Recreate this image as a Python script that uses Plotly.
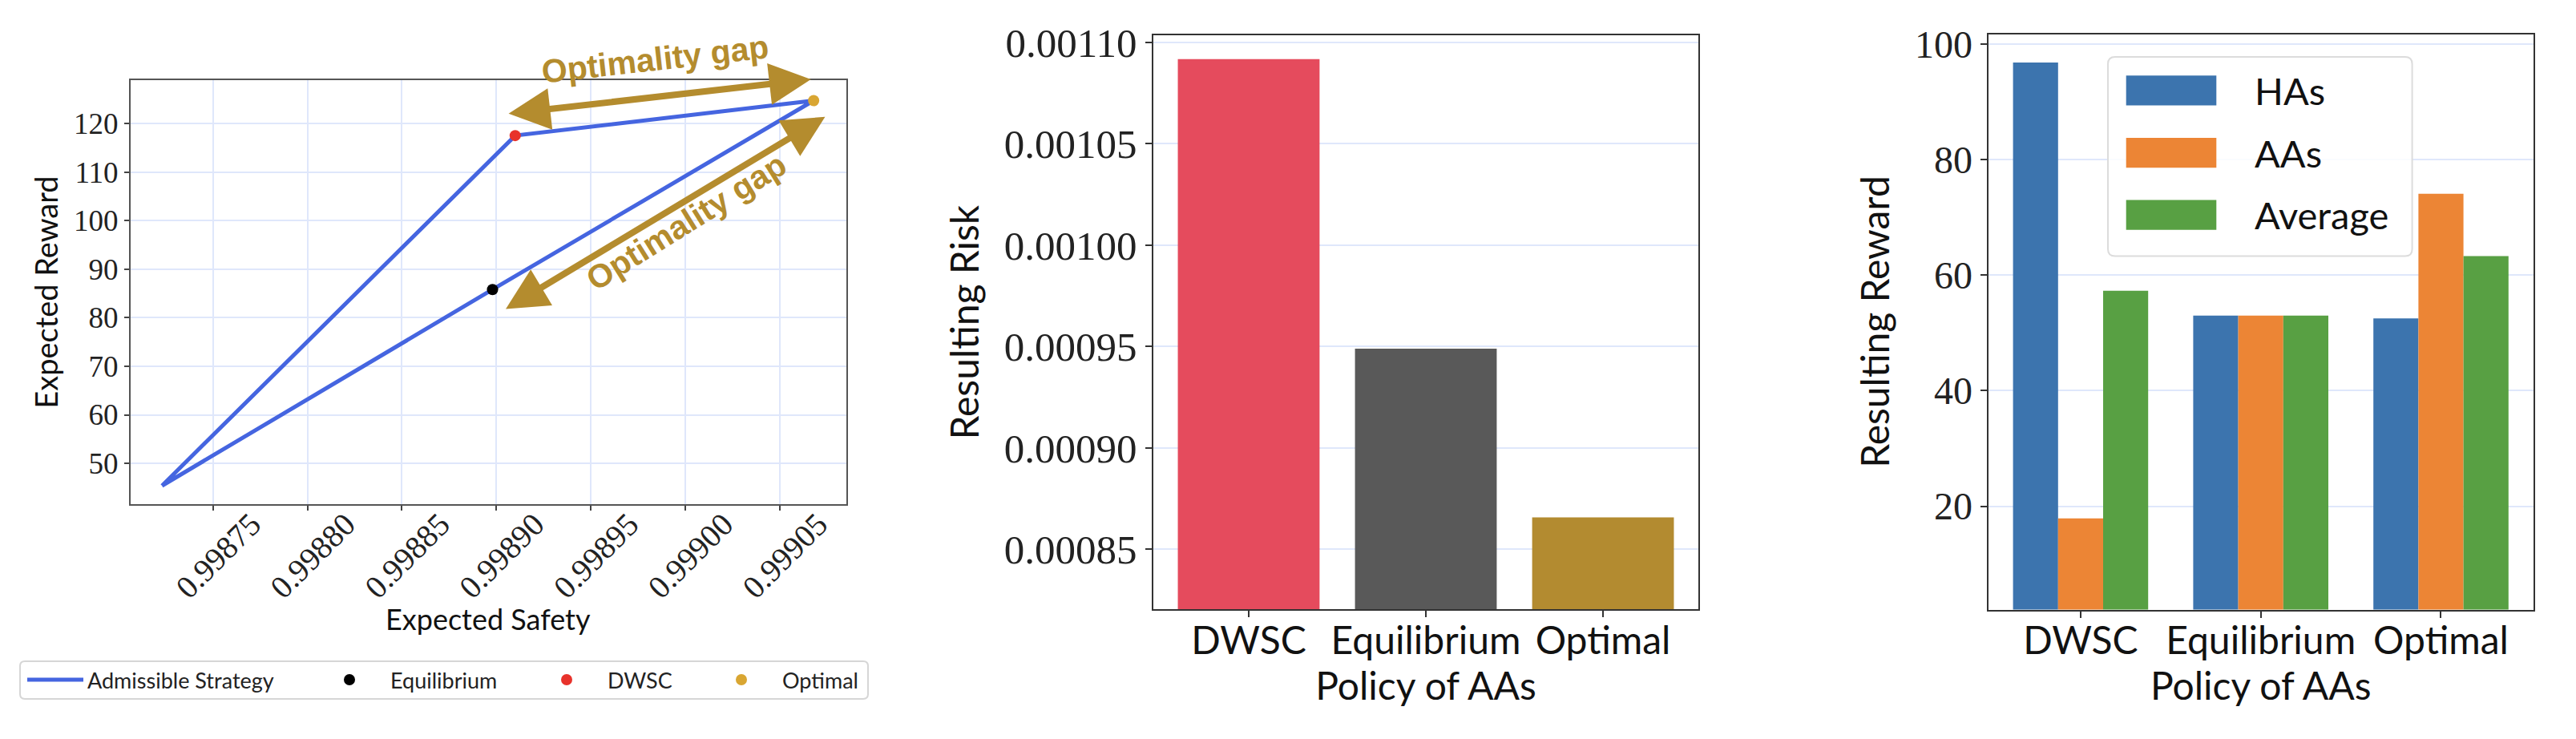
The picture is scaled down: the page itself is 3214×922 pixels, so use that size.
import plotly.graph_objects as go

W, H = 3214, 922

# ---------------- data ----------------
# Panel 1: admissible strategy frontier (Expected Safety vs Expected Reward)
strategy_safety = [0.998723, 0.998910, 0.999068, 0.998898, 0.998723]
strategy_reward = [45.4, 117.5, 124.7, 85.8, 45.4]
equilibrium_safety = [0.998898]
equilibrium_reward = [85.8]
dwsc_safety = [0.998910]
dwsc_reward = [117.5]
optimal_safety = [0.999068]
optimal_reward = [124.7]
x1_ticks = [0.99875, 0.99880, 0.99885, 0.99890, 0.99895, 0.99900, 0.99905]
y1_ticks = [50, 60, 70, 80, 90, 100, 110, 120]

# Panel 2: resulting risk per policy
policies = ["DWSC", "Equilibrium", "Optimal"]
risk = [0.0010917, 0.0009489, 0.0008657]
y2_ticks = [0.00085, 0.00090, 0.00095, 0.00100, 0.00105, 0.00110]

# Panel 3: resulting reward per policy
reward_has = [96.8, 53.0, 52.5]
reward_aas = [17.9, 53.0, 74.1]
reward_avg = [57.3, 53.0, 63.3]
y3_ticks = [20, 40, 60, 80, 100]

# ---------------- styling ----------------
GOLD = "#B48C2E"
BLUE_LINE = "#4565E0"
GRID = "#dfe7fb"
SERIF = "Liberation Serif"
SANS = "Lato"


def X(p):
    return p / W


def Y(p):
    return 1 - p / H


def rrect(x0, y0, x1, y1, r):
    return (f"M {X(x0 + r)},{Y(y0)} L {X(x1 - r)},{Y(y0)} Q {X(x1)},{Y(y0)} {X(x1)},{Y(y0 + r)} "
            f"L {X(x1)},{Y(y1 - r)} Q {X(x1)},{Y(y1)} {X(x1 - r)},{Y(y1)} "
            f"L {X(x0 + r)},{Y(y1)} Q {X(x0)},{Y(y1)} {X(x0)},{Y(y1 - r)} "
            f"L {X(x0)},{Y(y0 + r)} Q {X(x0)},{Y(y0)} {X(x0 + r)},{Y(y0)} Z")


fig = go.Figure()

# Panel 1 traces
fig.add_trace(go.Scatter(x=strategy_safety, y=strategy_reward, mode="lines",
                         line=dict(color=BLUE_LINE, width=5), name="Admissible Strategy",
                         xaxis="x", yaxis="y", legend="legend"))
fig.add_trace(go.Scatter(x=equilibrium_safety, y=equilibrium_reward, mode="markers",
                         marker=dict(color="black", size=14), name="Equilibrium",
                         xaxis="x", yaxis="y", legend="legend2"))
fig.add_trace(go.Scatter(x=dwsc_safety, y=dwsc_reward, mode="markers",
                         marker=dict(color="#E8322B", size=14), name="DWSC",
                         xaxis="x", yaxis="y", legend="legend3"))
fig.add_trace(go.Scatter(x=optimal_safety, y=optimal_reward, mode="markers",
                         marker=dict(color="#D9A632", size=14), name="Optimal",
                         xaxis="x", yaxis="y", legend="legend4"))

# Panel 2 bars
fig.add_trace(go.Bar(x=policies, y=risk, width=0.8,
                     marker=dict(color=["#E54B5D", "#595959", "#B38B30"], line=dict(width=0)),
                     xaxis="x2", yaxis="y2", showlegend=False, name="Resulting Risk"))

# Panel 3 grouped bars
for vals, col, off, nm in [(reward_has, "#3C74AE", -0.375, "HAs"),
                           (reward_aas, "#EC8535", -0.125, "AAs"),
                           (reward_avg, "#58A043", 0.125, "Average")]:
    fig.add_trace(go.Bar(x=policies, y=vals, width=0.25, offset=off,
                         marker=dict(color=col, line=dict(width=0)),
                         xaxis="x3", yaxis="y3", showlegend=False, name=nm))

axis_common = dict(showline=True, mirror=True, linewidth=2, ticks="outside",
                   tickwidth=2, zeroline=False)

fig.update_layout(
    width=W, height=H, autosize=False,
    margin=dict(l=0, r=0, t=0, b=0, pad=0),
    paper_bgcolor="white", plot_bgcolor="white",
    showlegend=True,
    xaxis=dict(domain=[X(163), X(1055.7)], anchor="y", range=[0.9987064, 0.9990852],
               tickvals=x1_ticks, tickformat=".5f", tickangle=-45,
               ticklabelshift=48, ticklabelstandoff=-22, ticklen=6, tickcolor="#444", linecolor="#555",
               showgrid=True, gridcolor=GRID, gridwidth=1.5,
               tickfont=dict(family=SERIF, size=40, color="#222"),
               **axis_common),
    yaxis=dict(domain=[Y(623), Y(84)], anchor="x", range=[41.63, 128.85],
               tickvals=y1_ticks, ticklen=6, tickcolor="#444", linecolor="#555",
               showgrid=True, gridcolor=GRID, gridwidth=1.5,
               tickfont=dict(family=SERIF, size=37, color="#222"),
               title=dict(text="Expected Reward", font=dict(family=SANS, size=38, color="#111"), standoff=8),
               **axis_common),
    xaxis2=dict(domain=[X(1438.6), X(2119.4)], anchor="y2", range=[-0.54, 2.54],
                type="category", ticklen=8, tickcolor="#333", linecolor="#333", showgrid=False,
                ticklabelstandoff=-12,
                tickfont=dict(family=SANS, size=48, color="#111"),
                title=dict(text="Policy of AAs", font=dict(family=SANS, size=48, color="#111"), standoff=10),
                **axis_common),
    yaxis2=dict(domain=[Y(757), Y(26.5)], anchor="x2", range=[0.0008204, 0.0011035],
                tickvals=y2_ticks, tickformat=".5f", ticklen=8, tickcolor="#333", linecolor="#333",
                showgrid=True, gridcolor=GRID, gridwidth=1.5,
                tickfont=dict(family=SERIF, size=51, color="#222"),
                title=dict(text="Resulting Risk", font=dict(family=SANS, size=48, color="#111"), standoff=16),
                **axis_common),
    xaxis3=dict(domain=[X(2480.7), X(3160.7)], anchor="y3", range=[-0.5125, 2.5125],
                type="category", ticklen=8, tickcolor="#333", linecolor="#333", showgrid=False,
                ticklabelstandoff=-12,
                tickfont=dict(family=SANS, size=48, color="#111"),
                title=dict(text="Policy of AAs", font=dict(family=SANS, size=48, color="#111"), standoff=10),
                **axis_common),
    yaxis3=dict(domain=[Y(757.3), Y(25)], anchor="x3", range=[2.1, 101.73],
                tickvals=y3_ticks, ticklen=8, tickcolor="#333", linecolor="#333",
                showgrid=True, gridcolor=GRID, gridwidth=1.5,
                tickfont=dict(family=SERIF, size=48, color="#222"),
                title=dict(text="Resulting Reward", font=dict(family=SANS, size=48, color="#111"), standoff=16),
                **axis_common),
    legend=dict(x=X(29), y=Y(847), xanchor="left", yanchor="middle", bgcolor="rgba(0,0,0,0)",
                borderwidth=0, itemwidth=70, font=dict(family=SANS, size=27, color="#222")),
    legend2=dict(x=X(385), y=Y(847), xanchor="left", yanchor="middle", bgcolor="rgba(0,0,0,0)",
                 borderwidth=0, itemwidth=92, font=dict(family=SANS, size=27, color="#222")),
    legend3=dict(x=X(656), y=Y(847), xanchor="left", yanchor="middle", bgcolor="rgba(0,0,0,0)",
                 borderwidth=0, itemwidth=92, font=dict(family=SANS, size=27, color="#222")),
    legend4=dict(x=X(874), y=Y(847), xanchor="left", yanchor="middle", bgcolor="rgba(0,0,0,0)",
                 borderwidth=0, itemwidth=92, font=dict(family=SANS, size=27, color="#222")),
)

# Panel 1 x-axis title (placed below the rotated tick labels)
fig.add_annotation(x=X((163 + 1055.7) / 2), y=Y(769), xref="paper", yref="paper", showarrow=False,
                   text="Expected Safety", xanchor="center", yanchor="middle",
                   font=dict(family=SANS, size=36, color="#111"))

# Panel 1 legend frame
fig.add_shape(type="path", xref="paper", yref="paper", path=rrect(25, 823, 1083, 871, 6),
              line=dict(color="#d6d6d6", width=2), fillcolor="white", layer="above")

# Optimality-gap double arrows (panel 1)
gap_arrows = [((0.9989065, 122.0), (0.9990672, 129.1)),
              ((0.998905, 81.8), (0.9990747, 121.5))]
for (xa, ya), (xb, yb) in gap_arrows:
    fig.add_annotation(x=xa, y=ya, ax=xb, ay=yb, xref="x", yref="y", axref="x", ayref="y",
                       text="", showarrow=True, arrowhead=2, startarrowhead=2,
                       arrowside="end+start", arrowwidth=8, arrowsize=1.3, startarrowsize=1.3,
                       arrowcolor=GOLD, standoff=0, startstandoff=0)
for cx, cy, ang in [(817, 57, -6.4), (856, 264, -32)]:
    fig.add_annotation(x=X(cx), y=Y(cy), xref="paper", yref="paper", showarrow=False,
                       text="<b>Optimality gap</b>", textangle=ang,
                       xanchor="center", yanchor="middle",
                       font=dict(family="Liberation Sans", size=41, color=GOLD))

# Panel 3 legend (drawn box with patches)
fig.add_shape(type="path", xref="paper", yref="paper", path=rrect(2630, 54, 3009.6, 307.6, 9),
              line=dict(color="#dcdcdc", width=2), fillcolor="rgba(255,255,255,0.85)", layer="above")
for nm, col, cy in [("HAs", "#3C74AE", 96.8), ("AAs", "#EC8535", 176), ("Average", "#58A043", 255)]:
    fig.add_shape(type="rect", xref="paper", yref="paper",
                  x0=X(2652.7), x1=X(2765.3), y0=Y(cy + 19), y1=Y(cy - 19),
                  line=dict(width=0), fillcolor=col, layer="above")
    fig.add_annotation(x=X(2811), y=Y(cy), xref="paper", yref="paper", showarrow=False,
                       text=nm, xanchor="left", yanchor="middle",
                       font=dict(family=SANS, size=47, color="#111"))

fig.write_html("out.html", config={"displayModeBar": False},
               post_script="document.body.style.margin='0px';")
